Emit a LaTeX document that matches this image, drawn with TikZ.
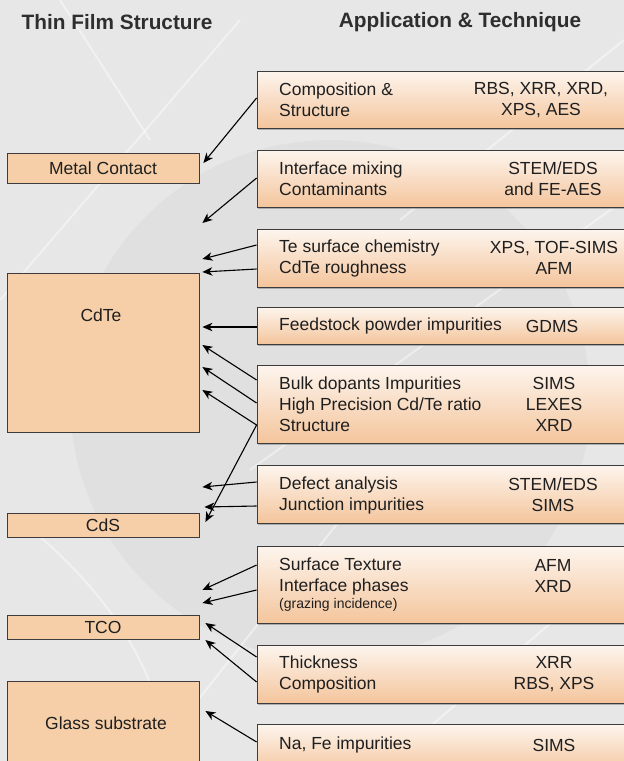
\documentclass[tikz,border=0pt]{standalone}
\usepackage{fontspec}
\setmainfont{Liberation Sans}
\usetikzlibrary{arrows.meta,shadows,calc}
\definecolor{bgray}{HTML}{E7E7E7}
\definecolor{bdark}{HTML}{DCDCDC}
\definecolor{layerfill}{HTML}{F6CFA8}
\definecolor{boxtop}{HTML}{FDF5EE}
\definecolor{boxbot}{HTML}{F4C59C}
\definecolor{edge}{HTML}{3C3C3C}
\begin{document}
\begin{tikzpicture}[x=1pt,y=-1pt,
  txt/.style={font=\fontsize{17.5}{21}\selectfont, text=black!88, inner sep=0pt},
  small/.style={font=\fontsize{14}{16}\selectfont, text=black!88, inner sep=0pt, anchor=west},
  heading/.style={font=\fontsize{20.8}{24}\selectfont\bfseries, text=black!82, inner sep=0pt},
  layer/.style={draw=edge, line width=0.8pt, fill=layerfill, minimum width=192pt, inner sep=0pt, txt},
  tech/.style={draw=edge, line width=0.8pt, top color=boxtop, bottom color=boxbot,
    minimum width=383pt, inner sep=0pt,
    drop shadow={shadow xshift=1pt, shadow yshift=-2pt, opacity=0.55}},
  lcol/.style={txt, align=left, anchor=west},
  rcol/.style={txt, align=center},
  arr/.style={-{Stealth[length=10pt,width=8.5pt,inset=3pt]}, line width=1.1pt, black},
  streak/.style={white, line width=2pt, opacity=0.45}
]
\clip (0,0) rectangle (624,761);
% background with faint panel streaks
\fill[bgray] (0,0) rectangle (624,761);
\fill[bdark, opacity=0.6] (330,400) circle[radius=260pt];
\draw[streak] (0,300) -- (240,20);
\draw[streak] (60,0) -- (150,140);
\draw[streak] (150,761) -- (340,520);
\draw[streak] (390,761) -- (624,560);
\draw[streak] (400,220) -- (624,40);
\draw[streak] (250,470) -- (624,200);
\draw[streak] (20,520) .. controls (120,600) and (160,680) .. (170,761);

% column headings
\node[heading] (h1) at (117,22) {Thin Film Structure};
\node[heading] (h2) at (460,22) {Application \& Technique};

% thin film layers
\node[layer, minimum height=30pt] (mc) at (103,168) {Metal Contact};
\node[layer, minimum height=159pt] (cdte) at (103,352.5) {};
\node[txt] (cdtelbl) at (101,315) {CdTe};
\node[layer, minimum height=24pt] (cds) at (103,525) {CdS};
\node[layer, minimum height=24pt] (tco) at (103,627) {TCO};
\node[layer, minimum height=92pt] (glass) at (103,727) {};
\node[txt] (glasslbl) at (106,723) {Glass substrate};

% technique boxes
\node[tech, minimum height=57pt] (comp) at (448.5,99.5) {};
\node[lcol] (compl) at (279,100) {Composition \&\\Structure};
\node[rcol] (compr) at (541,100) {RBS, XRR, XRD,\\XPS, AES};

\node[tech, minimum height=57pt] (intf) at (448.5,178.5) {};
\node[lcol] (intfl) at (279,179) {Interface mixing\\Contaminants};
\node[rcol] (intfr) at (553,179) {STEM/EDS\\and FE-AES};

\node[tech, minimum height=58pt] (tes) at (448.5,258) {};
\node[lcol] (tesl) at (279,258) {Te surface chemistry\\CdTe roughness};
\node[rcol] (tesr) at (554,258) {XPS, TOF-SIMS\\AFM};

\node[tech, minimum height=37pt] (feed) at (448.5,325.5) {};
\node[lcol] (feedl) at (279,326) {Feedstock powder impurities};
\node[rcol] (feedr) at (552,326) {GDMS};

\node[tech, minimum height=78pt] (bulk) at (448.5,404) {};
\node[lcol] (bulkl) at (279,404) {Bulk dopants Impurities\\High Precision Cd/Te ratio\\Structure};
\node[rcol] (bulkr) at (554,404) {SIMS\\LEXES\\XRD};

\node[tech, minimum height=58pt] (defect) at (448.5,494) {};
\node[lcol] (defectl) at (279,495) {Defect analysis\\Junction impurities};
\node[rcol] (defectr) at (553,495) {STEM/EDS\\SIMS};

\node[tech, minimum height=77pt] (surf) at (448.5,584.5) {};
\node[lcol] (surfl) at (279,576) {Surface Texture\\Interface phases};
\node[rcol] (surfr) at (553,576) {AFM\\XRD};
\node[small] (surfs) at (279,605) {(grazing incidence)};

\node[tech, minimum height=58pt] (thick) at (448.5,674) {};
\node[lcol] (thickl) at (279,674) {Thickness\\Composition};
\node[rcol] (thickr) at (554,674) {XRR\\RBS, XPS};

\node[tech, minimum height=50pt] (na) at (448.5,749) {};
\node[lcol] (nal) at (279,745) {Na, Fe impurities};
\node[rcol] (nar) at (554,745) {SIMS};

% arrow tips beside the layer stack
\coordinate (p1) at ($(mc.east |- 0,163)+(4,0)$);
\coordinate (p2) at ($(mc.east |- 0,223)+(3,0)$);
\coordinate (p3) at ($(cdte.east |- 0,259)+(3,0)$);
\coordinate (p4) at ($(cdte.east |- 0,272)+(3,0)$);
\coordinate (p5) at ($(cdte.east |- 0,327)+(3,0)$);
\coordinate (p6) at ($(cdte.east |- 0,345)+(3,0)$);
\coordinate (p7) at ($(cdte.east |- 0,367)+(3,0)$);
\coordinate (p8) at ($(cdte.east |- 0,390)+(3,0)$);
\coordinate (p9) at ($(cds.east |- 0,522)+(6,0)$);
\coordinate (p10) at ($(cds.east |- 0,487)+(3,0)$);
\coordinate (p11) at ($(cds.east |- 0,507)+(5,0)$);
\coordinate (p12) at ($(tco.east |- 0,590)+(3,0)$);
\coordinate (p13) at ($(tco.east |- 0,603)+(3,0)$);
\coordinate (p14) at ($(tco.east |- 0,623)+(6,0)$);
\coordinate (p15) at ($(tco.east |- 0,640)+(6,0)$);
\coordinate (p16) at ($(glass.east |- 0,711)+(6,0)$);

% connectors
\draw[arr] (comp.west |- 0,98) -- (p1);
\draw[arr] (intf.west |- 0,178) -- (p2);
\draw[arr] (tes.west |- 0,245) -- (p3);
\draw[arr] (tes.west |- 0,269) -- (p4);
\draw[arr] (feed.west |- 0,327) -- (p5);
\draw[arr] (bulk.west |- 0,380) -- (p6);
\draw[arr] (bulk.west |- 0,403) -- (p7);
\draw[arr] (bulk.west |- 0,425) -- (p8);
\draw[arr] (bulk.west |- 0,425) -- (p9);
\draw[arr] (defect.west |- 0,482) -- (p10);
\draw[arr] (defect.west |- 0,506) -- (p11);
\draw[arr] (surf.west |- 0,565) -- (p12);
\draw[arr] (surf.west |- 0,590) -- (p13);
\draw[arr] (thick.west |- 0,657) -- (p14);
\draw[arr] (thick.west |- 0,682) -- (p15);
\draw[arr] (na.west |- 0,742) -- (p16);
\end{tikzpicture}
\end{document}
